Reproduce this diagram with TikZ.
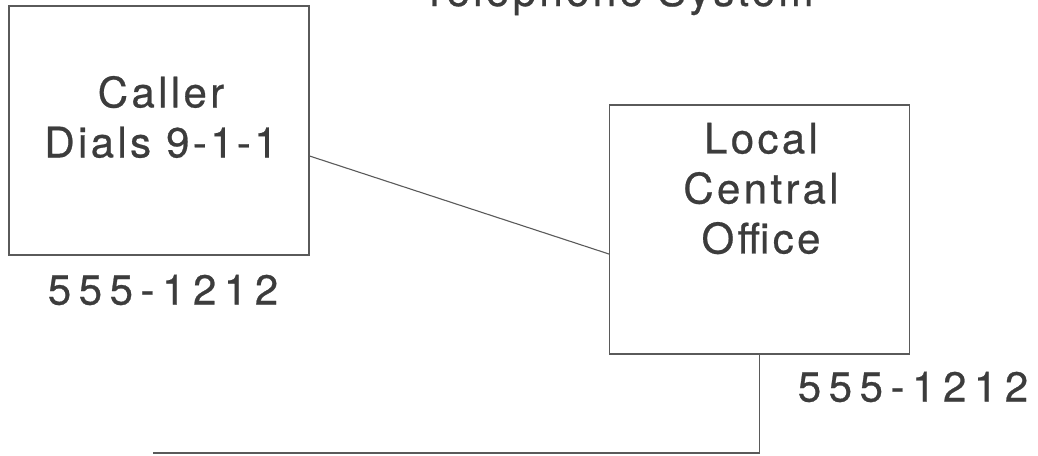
\documentclass[tikz,border=0pt]{standalone}
\usepackage{fontspec}
\setmainfont{TeX Gyre Heros}[LetterSpace=8,FakeBold=0.6]
\newfontfamily\numfont{TeX Gyre Heros}[LetterSpace=18,FakeBold=0.6]
\usepackage{tikz}
\definecolor{inkgray}{RGB}{60, 60, 60}
\definecolor{wiregray}{RGB}{90, 90, 90}
\tikzstyle{unitbox}=[draw=wiregray,line width=1.1pt,minimum width=300pt,minimum height=249pt,inner sep=0pt]
\tikzstyle{boxtext}=[inkgray,align=center,inner sep=0pt,font=\fontsize{42}{50}\selectfont]
\tikzstyle{numlabel}=[inkgray,inner sep=0pt,font=\fontsize{42}{50}\selectfont\numfont]
\tikzstyle{wire}=[draw=wiregray,line width=1.1pt]

\begin{document}
\begin{tikzpicture}[x=1pt,y=-1pt]

\useasboundingbox (0,0) rectangle (1038,455);
\clip (0,0) rectangle (1038,455);

\node[boxtext,anchor=base] (title) at (617.5,6) {Telephone System};

\node[unitbox] (caller) at (159,130.5) {};
\node[unitbox] (office) at (759.5,229.5) {};

\node[boxtext] (callertext) at (161,117) {Caller\\Dials 9-1-1};
\node[boxtext] (officetext) at (761,188.5) {Local\\Central\\Office};

\node[numlabel] (callernum) at (163,290) {555-1212};
\node[numlabel] (officenum) at (913,387) {555-1212};

\coordinate[yshift=-25.5pt] (callerport) at (caller.east);
\coordinate[yshift=-24.5pt] (officeport) at (office.west);
\coordinate (lineend) at (153,453);

\draw[wire] (callerport) -- (officeport);
\draw[wire] (office.south) |- (lineend);

\end{tikzpicture}
\end{document}
